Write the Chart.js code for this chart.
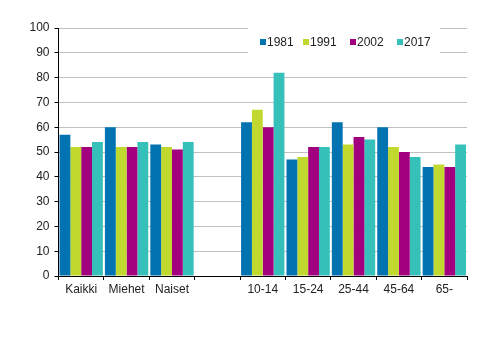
<!DOCTYPE html>
<html>
<head>
<meta charset="utf-8">
<script src="https://cdn.jsdelivr.net/npm/chart.js@4/dist/chart.umd.min.js"></script>
<style>
  html, body { margin:0; padding:0; background:#fff; }
  #wrap { width:491px; height:340px; position:relative; }
</style>
</head>
<body>
<div id="wrap"><canvas id="chart"></canvas></div>
<script>
'use strict';

const categories = ['Kaikki', 'Miehet', 'Naiset', '', '10-14', '15-24', '25-44', '45-64', '65-'];
const years = ['1981', '1991', '2002', '2017'];
const v1981 = [57, 60, 53, null, 62, 47, 62, 60, 44];
const v1991 = [52, 52, 52, null, 67, 48, 53, 52, 45];
const v2002 = [52, 52, 51, null, 60, 52, 56, 50, 44];
const v2017 = [54, 54, 54, null, 82, 52, 55, 48, 53];
const yTicks = [0, 10, 20, 30, 40, 50, 60, 70, 80, 90, 100];

const colors = ['#0073b0', '#c1d82f', '#a3007f', '#35c1b9'];
const FONT = 'Arial, "Liberation Sans", sans-serif';

// legend drawn inside the plot, on a white patch over the top gridlines
const innerLegend = {
  id: 'innerLegend',
  afterDraw(chart) {
    const ctx = chart.ctx;
    const a = chart.chartArea;
    ctx.save();
    ctx.fillStyle = '#fff';
    ctx.fillRect(248, a.top - 1, 192, 26);
    ctx.font = '12px ' + FONT;
    ctx.textBaseline = 'middle';
    const xs = [260, 303, 350, 397];
    chart.data.datasets.forEach((ds, i) => {
      ctx.fillStyle = ds.backgroundColor;
      ctx.fillRect(xs[i], 39, 6, 6);
      ctx.fillStyle = '#222';
      ctx.fillText(ds.label, xs[i] + 7, 42.5);
    });
    ctx.restore();
  }
};

const series = [v1981, v1991, v2002, v2017];

new Chart(document.getElementById('chart'), {
  type: 'bar',
  data: {
    labels: categories,
    datasets: years.map((y, i) => ({
      label: y,
      data: series[i],
      backgroundColor: colors[i],
      borderWidth: 0,
      categoryPercentage: 0.955,
      barPercentage: 1.0,
    }))
  },
  options: {
    responsive: true, maintainAspectRatio: false,
    animation: false,
    layout: { padding: { left:0, right:24, top:28, bottom:0 } },
    plugins: { legend:{ display:false }, tooltip:{ enabled:false } },
    scales: {
      x: {
        afterFit: s => { s.height = 64; },
        grid: { offset:true, drawOnChartArea:false, drawTicks:true, tickLength:4, color:'#000' },
        border: { color:'#000', width:1 },
        ticks: { color:'#222', font:{ size:12, family:FONT }, padding:2, maxRotation:0, autoSkip:false },
      },
      y: {
        min: 0, max: 100,
        afterFit: s => { s.width = 58.5; },
        afterBuildTicks: s => { s.ticks = yTicks.map(v => ({ value:v })); },
        grid: { color:'#c0c0c0', lineWidth:1, tickLength:4, tickColor:'#000' },
        border: { color:'#000', width:1 },
        ticks: { color:'#222', font:{ size:12, family:FONT }, padding:5 },
      }
    }
  },
  plugins: [innerLegend]
});
</script>
</body>
</html>
